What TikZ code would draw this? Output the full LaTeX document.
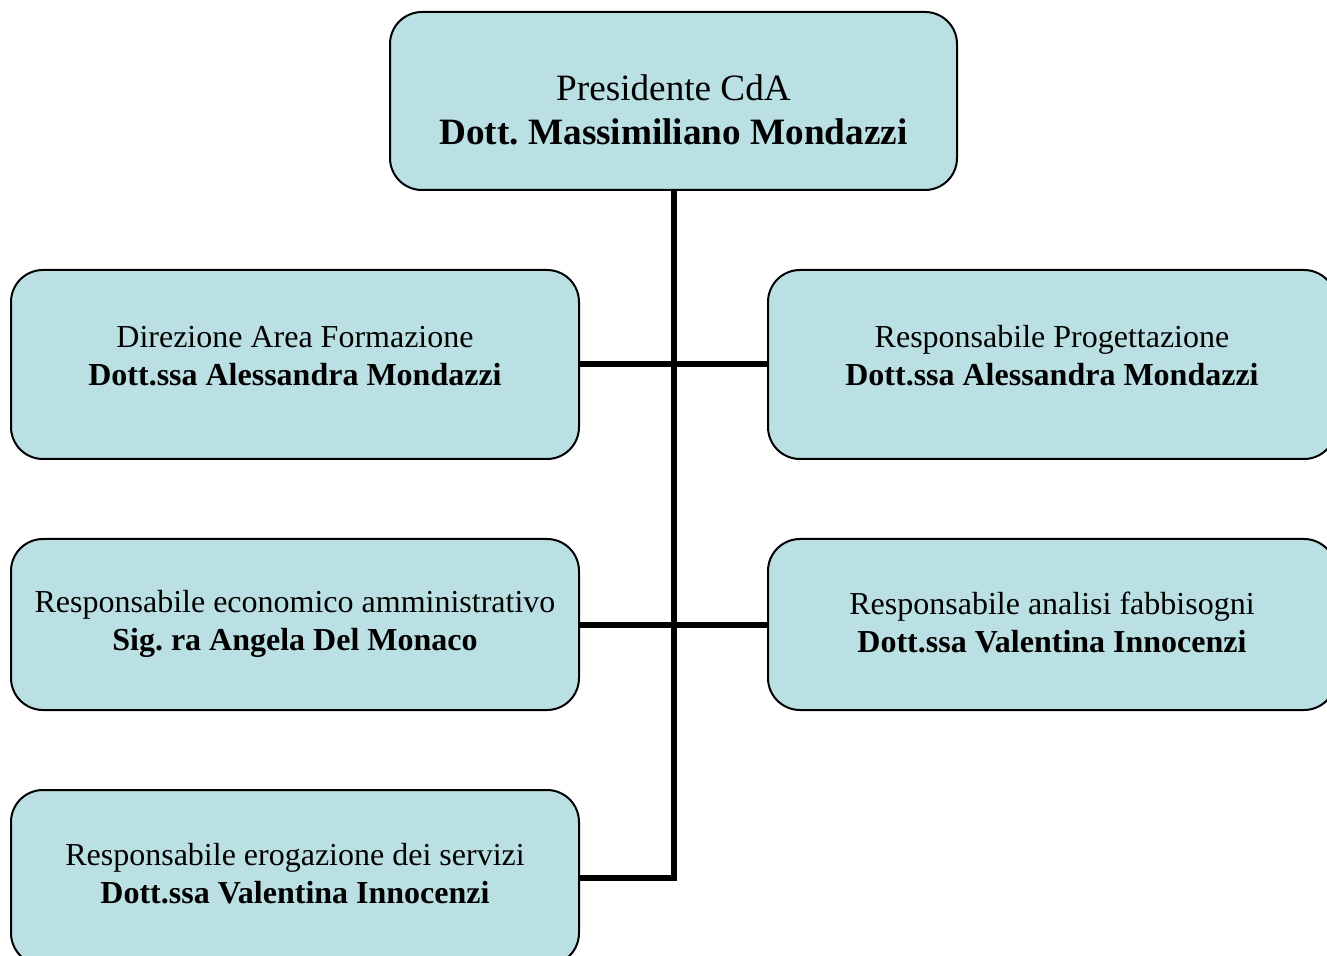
\documentclass[tikz,border=0pt]{standalone}
\usepackage{fontspec}
\setmainfont{Liberation Serif}
\usepackage{xcolor}
\definecolor{BoxBlue}{HTML}{BBE0E3}
\frenchspacing
\tikzset{
  orgbox/.style={draw=black,line width=1pt,fill=BoxBlue,rounded corners=16pt,
    inner sep=0pt,minimum width=284pt},
  orgtext/.style={align=center,inner sep=0pt,font=\fontsize{16}{19}\selectfont},
  link/.style={line width=3pt,black}
}
\begin{document}
\begin{tikzpicture}[x=0.5pt,y=-0.5pt]
    \useasboundingbox (0,0) rectangle (1327,956);
    \clip (0,0) rectangle (1327,956);
    \node[orgbox,minimum width=283.5pt,minimum height=89pt] (pres) at (673.5,101) {};
    \node[orgbox,minimum height=94.5pt] (dir) at (295,364.5) {};
    \node[orgbox,minimum height=94.5pt] (prog) at (1052,364.5) {};
    \node[orgbox,minimum height=85.5pt] (eco) at (295,624.5) {};
    \node[orgbox,minimum height=85.5pt] (fabb) at (1052,624.5) {};
    \node[orgbox,minimum height=87.5pt] (erog) at (295,877.5) {};
    \node[orgtext,font=\fontsize{18.6}{22}\selectfont] (pres text) at ([yshift=-4.5pt]pres.center)
      {Presidente CdA\\\textbf{Dott. Massimiliano Mondazzi}};
    \node[orgtext] (dir text) at ([yshift=4pt]dir.center)
      {Direzione Area Formazione\\\textbf{Dott.ssa Alessandra Mondazzi}};
    \node[orgtext] (prog text) at ([yshift=4.5pt]prog.center)
      {Responsabile Progettazione\\\textbf{Dott.ssa Alessandra Mondazzi}};
    \node[orgtext] (eco text) at ([yshift=0.5pt]eco.center)
      {Responsabile economico amministrativo\\\textbf{Sig. ra Angela Del Monaco}};
    \node[orgtext] (fabb text) at ([yshift=1pt]fabb.center)
      {Responsabile analisi fabbisogni\\\textbf{Dott.ssa Valentina Innocenzi}};
    \node[orgtext] (erog text) at ([yshift=2pt]erog.center)
      {Responsabile erogazione dei servizi\\\textbf{Dott.ssa Valentina Innocenzi}};
    \draw[link] (pres.south) |- (erog.east);
    \draw[link] (dir.east) -- (prog.west);
    \draw[link] (eco.east) -- (fabb.west);
\end{tikzpicture}
\end{document}
